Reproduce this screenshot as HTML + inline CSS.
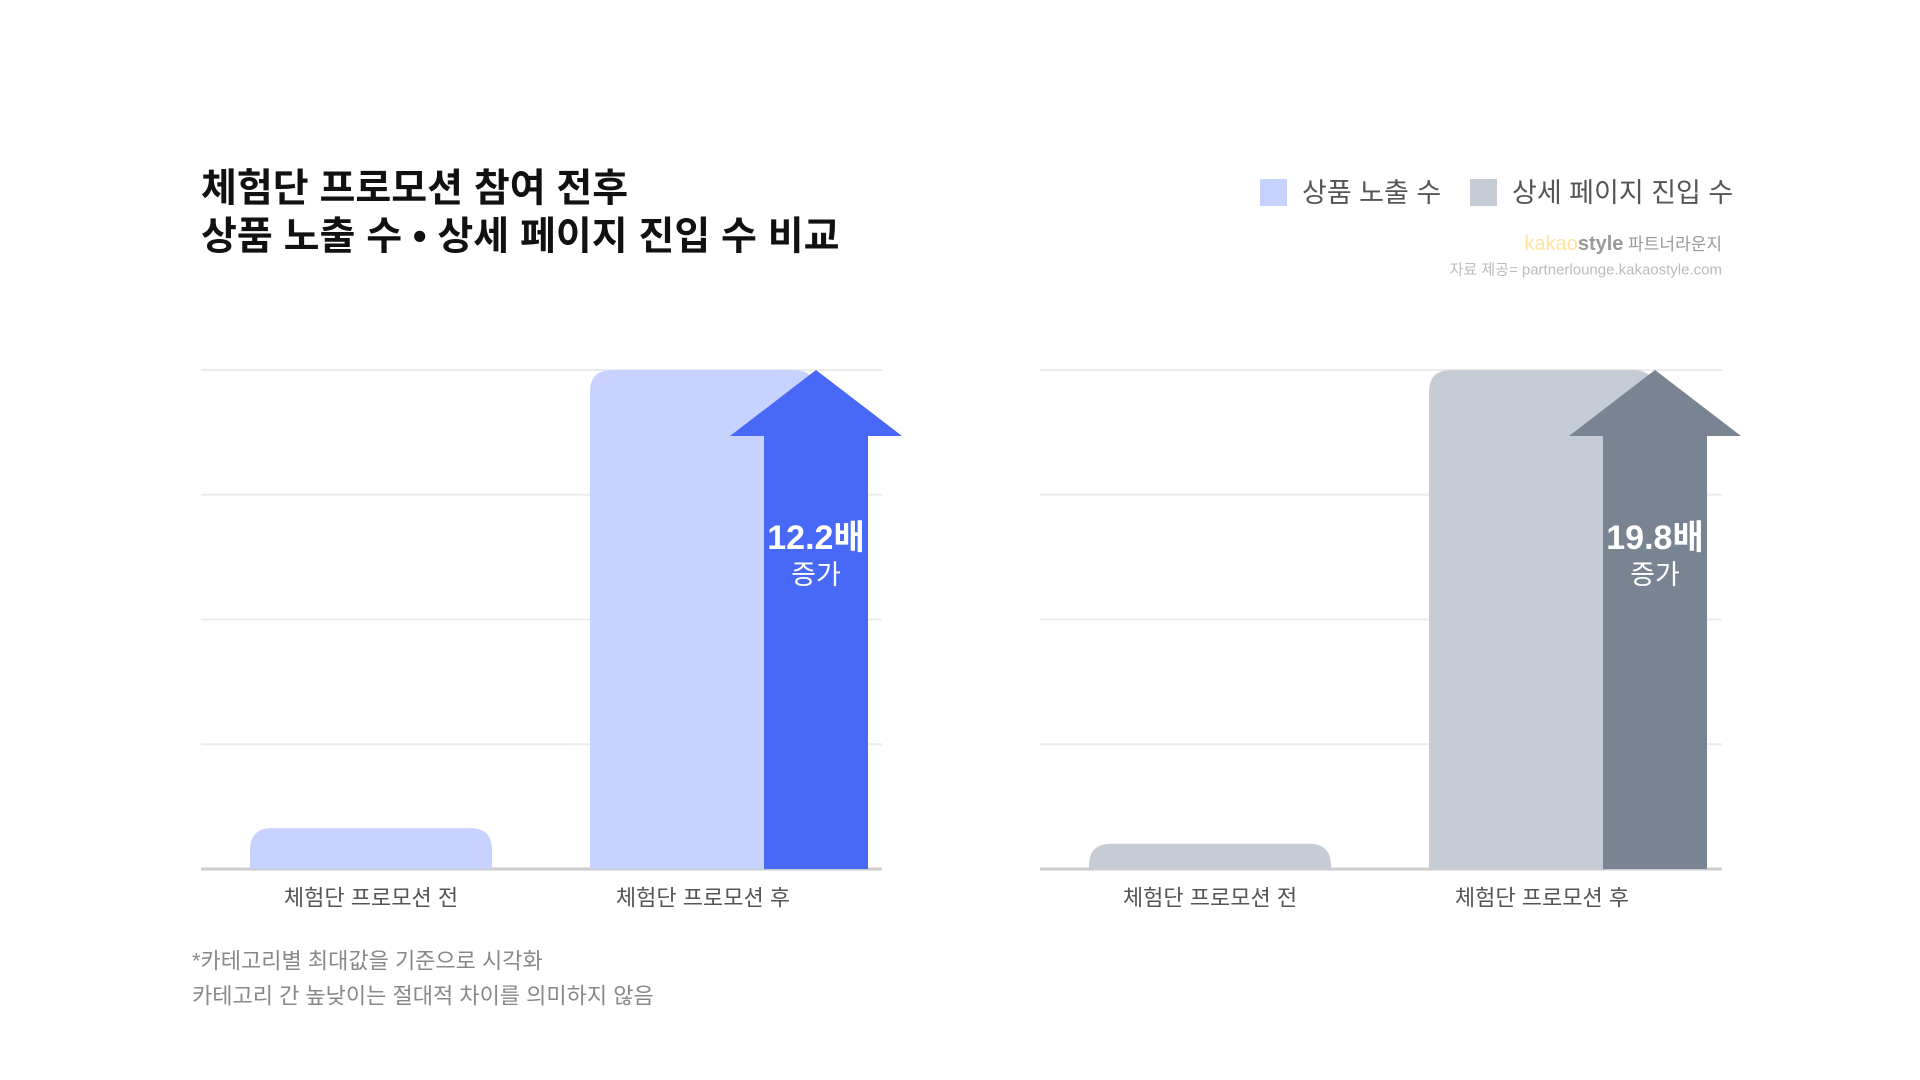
<!DOCTYPE html>
<html><head><meta charset="utf-8">
<style>
body{margin:0;width:1920px;height:1080px;background:#fff;overflow:hidden;font-family:"Liberation Sans","Noto Sans CJK KR",sans-serif;}
svg{position:absolute;left:0;top:0}
</style></head>
<body>
<svg id="chart" width="1920" height="1080" xmlns="http://www.w3.org/2000/svg"></svg>
<script>
const categories = ["체험단 프로모션 전", "체험단 프로모션 후"];
const impressionValues = [8.2, 100];
const detailValues = [5.05, 100];
const multipliers = ["12.2배", "19.8배"];
const gridTicks = [0, 25, 50, 75, 100];

const NS = "http://www.w3.org/2000/svg";
const svg = document.getElementById('chart');
const FONT = '"Liberation Sans","Noto Sans CJK KR",sans-serif';
function el(tag, attrs, parent) {
  const e = document.createElementNS(NS, tag);
  for (const k in attrs) e.setAttribute(k, attrs[k]);
  (parent || svg).appendChild(e);
  return e;
}
function txt(x, y, s, size, fill, weight, anchor, name) {
  const t = el('text', {x, y, 'font-size': size, fill, 'font-weight': weight || 400, 'text-anchor': anchor || 'start', 'font-family': FONT, 'dominant-baseline': 'central'});
  t.textContent = s;
  
  
  return t;
}
// title
txt(201, 189, "체험단 프로모션 참여 전후", 39, "#111", 700, 'start', 'chart-title-line1');
txt(201, 237, "상품 노출 수 • 상세 페이지 진입 수 비교", 39, "#111", 700, 'start', 'chart-title-line2');
// legend
let r = el('rect', {x: 1260, y: 179, width: 27, height: 27, fill: '#c7d2fe'});


txt(1302, 193, "상품 노출 수", 27, "#555", 400, 'start', 'legend-label-impressions');
r = el('rect', {x: 1470, y: 179, width: 27, height: 27, fill: '#c5ccd6'});


txt(1512, 193, "상세 페이지 진입 수", 27, "#555", 400, 'start', 'legend-label-detail');
// brand
const brand = el('text', {x: 1722, y: 244, 'font-size': 20, 'text-anchor': 'end', 'font-family': FONT, 'dominant-baseline': 'central'});


brand.innerHTML = '<tspan fill="#fde49a">kakao</tspan><tspan fill="#999" font-weight="700">style</tspan><tspan fill="#999" font-size="17"> 파트너라운지</tspan>';
txt(1722, 270, "자료 제공= partnerlounge.kakaostyle.com", 15, "#bbb", 400, 'end', 'source-note');

const y0 = 869, y1 = 370;
function yScale(v) { return y0 - (v / 100) * (y0 - y1); }

function drawChart(cfg) {
  const g = el('g', {});
  
  
  gridTicks.forEach(t => {
    const l = el('line', {x1: cfg.x0, x2: cfg.x1, y1: yScale(t), y2: yScale(t), stroke: t === 0 ? '#ccc' : '#ececec', 'stroke-width': t === 0 ? 3 : 2}, g);
    
    
  });
  const w = cfg.x1 - cfg.x0;
  const barW = [242, 226];
  const barX = [cfg.x0 + 49, cfg.x0 + 389];
  cfg.values.forEach((v, i) => {
    const top = yScale(v), h = y0 - top, x = barX[i], bw = barW[i], rr = Math.min(22, h);
    const p = el('path', {d: `M${x},${y0} V${top + rr} Q${x},${top} ${x + rr},${top} H${x + bw - rr} Q${x + bw},${top} ${x + bw},${top + rr} V${y0} Z`, fill: cfg.light}, g);
    
    
    txt(x + bw / 2, 898, categories[i], 22, '#555', 400, 'middle', 'category-label');
  });
  // arrow
  const tipX = barX[1] + barW[1], top = yScale(cfg.values[1]);
  const headY = top + 66;
  const a = el('path', {d: `M${tipX},${top} L${tipX + 86},${headY} H${tipX + 52} V${y0} H${tipX - 52} V${headY} H${tipX - 86} Z`, fill: cfg.dark}, g);
  
  
  txt(tipX, 538, cfg.mult, 34, '#fff', 700, 'middle', 'multiplier-label');
  txt(tipX, 575, "증가", 27, '#fff', 400, 'middle', 'increase-label');
}
drawChart({name: 'impressions-chart', x0: 201, x1: 882, values: impressionValues, light: '#c7d2fe', dark: '#4869f7', mult: multipliers[0]});
drawChart({name: 'detail-page-chart', x0: 1040, x1: 1722, values: detailValues, light: '#c5ccd6', dark: '#788492', mult: multipliers[1]});

txt(192, 961, "*카테고리별 최대값을 기준으로 시각화", 22, '#888', 400, 'start', 'footnote-line1');
txt(192, 996, "카테고리 간 높낮이는 절대적 차이를 의미하지 않음", 22, '#888', 400, 'start', 'footnote-line2');
</script>
</body></html>
